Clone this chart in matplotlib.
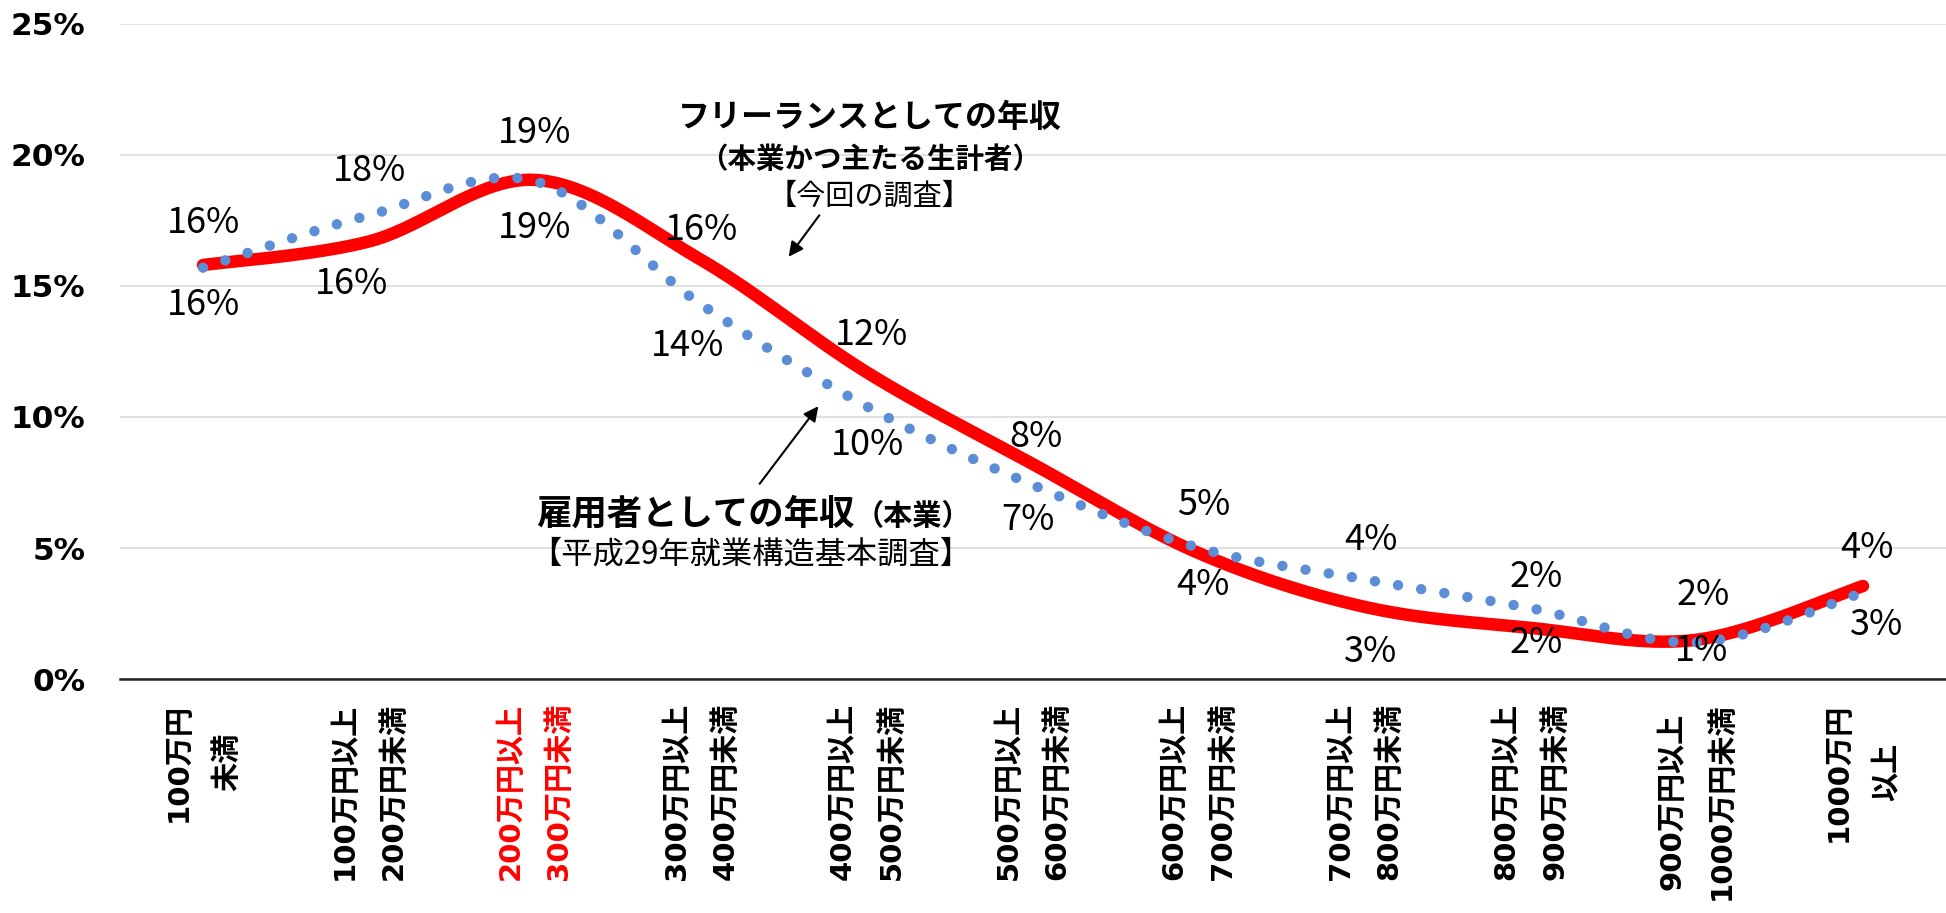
import numpy as np
import matplotlib.pyplot as plt

# income brackets (x axis)
categories = ['100万円\n未満', '100万円以上\n200万円未満', '200万円以上\n300万円未満',
              '300万円以上\n400万円未満', '400万円以上\n500万円未満', '500万円以上\n600万円未満',
              '600万円以上\n700万円未満', '700万円以上\n800万円未満', '800万円以上\n900万円未満',
              '900万円以上\n1000万円未満', '1000万円\n以上']

# share of respondents, %
freelance = [15.8, 16.7, 19.05, 16.0, 11.7, 8.2, 4.8, 2.75, 1.95, 1.5, 3.55]
employee = [15.7, 17.7, 19.0, 14.3, 10.4, 7.4, 5.0, 3.8, 2.7, 1.4, 3.3]
freelance_labels = ['16%', '16%', '19%', '16%', '12%', '8%', '4%', '3%', '2%', '2%', '4%']
employee_labels = ['16%', '18%', '19%', '14%', '10%', '7%', '5%', '4%', '2%', '1%', '3%']

yticks = [0, 5, 10, 15, 20, 25]

# label offsets in pixels (dx, dy up)
red_off = [(0, -40), (-18, -43), (0, -48), (0, 30), (4, 37), (3, 27),
           (4, -32), (6, -45), (5, -15), (6, 45), (4, 38)]
blue_off = [(0, 45), (0, 44), (0, 48), (-13, -42), (0, -38), (-5, -35),
            (5, 43), (6, 39), (5, 31), (4, -9), (14, -32)]

W, H = 1946, 913
CJK = 'Noto Sans CJK JP'


def smooth(y, n=40):
    # excel-like smoothed line: catmull-rom as cubic bezier
    pts = np.column_stack([np.arange(len(y)), np.asarray(y, float)])
    P = np.vstack([pts[0], pts, pts[-1]])
    t = np.linspace(0, 1, n)[:, None]
    out = []
    for i in range(len(pts) - 1):
        p0, p1, p2, p3 = P[i], P[i + 1], P[i + 2], P[i + 3]
        c1 = p1 + (p2 - p0) / 6
        c2 = p2 - (p3 - p1) / 6
        seg = (1 - t) ** 3 * p1 + 3 * (1 - t) ** 2 * t * c1 + 3 * (1 - t) * t ** 2 * c2 + t ** 3 * p2
        out.append(seg if i == 0 else seg[1:])
    return np.vstack(out)


def fp(x, y):
    return (x / W, 1 - y / H)


fig = plt.figure(figsize=(W / 100, H / 100), dpi=100)
ax = fig.add_axes([120 / W, (H - 679) / H, (W - 120) / W, (679 - 24) / H])

r = smooth(freelance)
b = smooth(employee)
ax.plot(r[:, 0], r[:, 1], color='#FF0000', lw=9, solid_capstyle='round', zorder=3)
ax.plot(b[:, 0], b[:, 1], color='#5B8ED6', lw=7.5, linestyle=(0, (0.001, 2.25)),
        dash_capstyle='round', zorder=4)

for i, v in enumerate(freelance):
    ax.annotate(freelance_labels[i], (i, v), xytext=red_off[i], textcoords='offset pixels',
                ha='center', va='center', fontsize=26, family=CJK, zorder=5)
for i, v in enumerate(employee):
    ax.annotate(employee_labels[i], (i, v), xytext=blue_off[i], textcoords='offset pixels',
                ha='center', va='center', fontsize=26, family=CJK, zorder=5)

ax.set_xlim(-0.5, len(categories) - 0.5)
ax.set_ylim(0, 25)
ax.set_yticks(yticks)
ax.set_yticklabels([f'{v}%' for v in yticks], fontsize=22.5, fontweight='bold', family='DejaVu Sans')
ax.yaxis.grid(True, color='#D9D9D9', lw=1.1)
ax.set_axisbelow(True)
ax.tick_params(axis='y', length=0, pad=25)
ax.tick_params(axis='x', length=0, pad=17)
ax.set_xticks(range(len(categories)))
ax.set_xticklabels(categories, rotation=90, fontsize=21, fontweight='bold',
                   family=['DejaVu Sans', CJK], linespacing=1.95, multialignment='center')
ax.get_xticklabels()[2].set_color('#FF0000')
for s in ['top', 'right', 'left']:
    ax.spines[s].set_visible(False)
ax.spines['bottom'].set_color('#222222')
ax.spines['bottom'].set_linewidth(1.8)

# annotations
fig.text(*fp(870, 118), 'フリーランスとしての年収', ha='center', va='center',
         fontsize=23, fontweight='bold', family=CJK)
fig.text(*fp(870, 160), '（本業かつ主たる生計者）', ha='center', va='center',
         fontsize=20.5, fontweight='bold', family=CJK)
fig.text(*fp(870, 197), '【今回の調査】', ha='center', va='center', fontsize=21, family=CJK)
ax.annotate('', xy=fp(787, 259), xytext=fp(821, 213), xycoords='figure fraction',
            textcoords='figure fraction',
            arrowprops=dict(arrowstyle='-|>', color='black', lw=1.5, mutation_scale=22))

t2 = fig.text(*fp(536, 514), '雇用者としての年収', ha='left', va='center',
              fontsize=25.5, fontweight='bold', family=CJK)
fig.canvas.draw()
bb = t2.get_window_extent()
fig.text(bb.x1 / W, bb.y0 / H + 0.001, '（本業）', ha='left', va='bottom',
         fontsize=21, fontweight='bold', family=CJK)
fig.text(*fp(751, 555), '【平成29年就業構造基本調査】', ha='center', va='center',
         fontsize=22.5, family=CJK)
ax.annotate('', xy=fp(820, 404), xytext=fp(758, 486), xycoords='figure fraction',
            textcoords='figure fraction',
            arrowprops=dict(arrowstyle='-|>', color='black', lw=1.5, mutation_scale=22))

fig.savefig('out.png', dpi=100)
